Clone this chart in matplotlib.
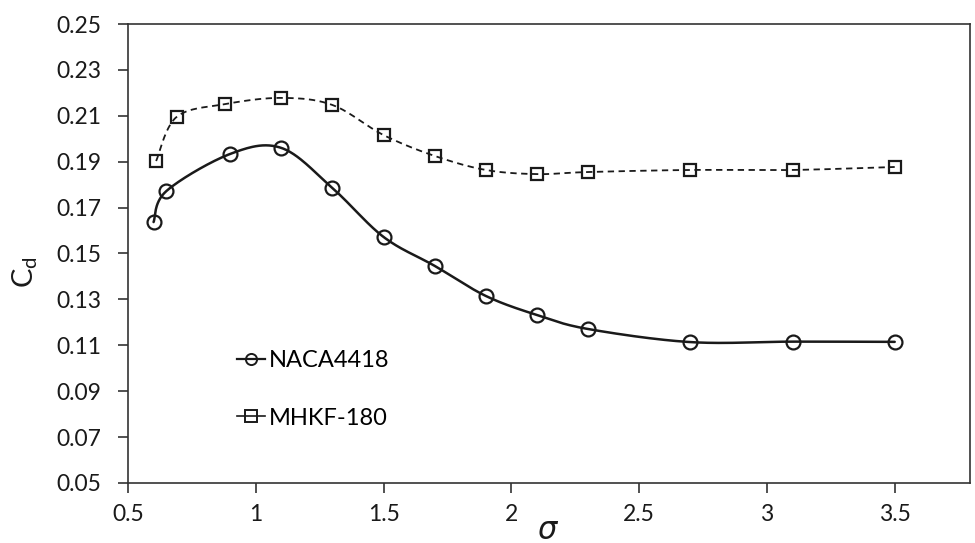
import numpy as np
import matplotlib
matplotlib.use("Agg")
import matplotlib.pyplot as plt
from matplotlib.lines import Line2D

plt.rcParams['font.family'] = ['Lato', 'DejaVu Sans']

naca_x = [0.6, 0.65, 0.9, 1.1, 1.3, 1.5, 1.7, 1.9, 2.1, 2.3, 2.7, 3.1, 3.5]
naca_y = [0.1637, 0.1772, 0.1934, 0.1960, 0.1785, 0.1572, 0.1446, 0.1315,
          0.1232, 0.1171, 0.1114, 0.1116, 0.1115]
mhkf_x = [0.61, 0.69, 0.88, 1.1, 1.3, 1.5, 1.7, 1.9, 2.1, 2.3, 2.7, 3.1, 3.5]
mhkf_y = [0.1903, 0.2095, 0.2151, 0.2178, 0.2147, 0.2016, 0.1925, 0.1864,
          0.1846, 0.1855, 0.1864, 0.1864, 0.1877]
series_names = ['NACA4418', 'MHKF-180']
y_ticks = [0.05, 0.07, 0.09, 0.11, 0.13, 0.15, 0.17, 0.19, 0.21, 0.23, 0.25]
x_ticks = [0.5, 1, 1.5, 2, 2.5, 3, 3.5]


def smooth(xs, ys, n=30):
    """Excel-like smoothed line (Catmull-Rom Bezier) through the data points."""
    p = np.column_stack([xs, ys]).astype(float)
    out = []
    for i in range(len(p) - 1):
        p0 = p[i - 1] if i > 0 else p[i]
        p1 = p[i]
        p2 = p[i + 1]
        p3 = p[i + 2] if i + 2 < len(p) else p[i + 1]
        c1 = p1 + (p2 - p0) / 6.0
        c2 = p2 - (p3 - p1) / 6.0
        t = np.linspace(0, 1, n)[:, None]
        seg = ((1 - t) ** 3) * p1 + 3 * ((1 - t) ** 2) * t * c1 + 3 * (1 - t) * t ** 2 * c2 + t ** 3 * p2
        out.append(seg if i == 0 else seg[1:])
    s = np.vstack(out)
    return s[:, 0], s[:, 1]


fig = plt.figure(figsize=(9.75, 5.43), dpi=100)
ax = fig.add_axes([0.1313, 0.1105, 0.8637, 0.8453])

sx, sy = smooth(naca_x, naca_y)
ax.plot(sx, sy, color='#1a1a1a', lw=1.8, solid_capstyle='round')
ax.plot(naca_x, naca_y, ls='none', marker='o', ms=10, mfc='none', mec='#1a1a1a', mew=1.6)

sx2, sy2 = smooth(mhkf_x, mhkf_y)
ax.plot(sx2, sy2, color='#1a1a1a', lw=1.3, ls=(0, (3.5, 2.5)))
ax.plot(mhkf_x, mhkf_y, ls='none', marker='s', ms=9, mfc='none', mec='#1a1a1a', mew=1.6)

ax.set_xlim(0.5, 3.795)
ax.set_ylim(0.05, 0.25)
ax.set_xticks(x_ticks)
ax.set_xticklabels([f'{v:g}' for v in x_ticks])
ax.set_yticks(y_ticks)
ax.set_yticklabels([f'{v:.2f}' for v in y_ticks])
ax.tick_params(axis='both', direction='out', length=7, width=1.2, color='#333333',
               labelsize=16.5, labelcolor='#1a1a1a')
ax.tick_params(axis='y', pad=12)
ax.tick_params(axis='x', pad=8)
for sp in ax.spines.values():
    sp.set_color('#333333')
    sp.set_linewidth(1.2)

ax.set_ylabel(r'C$_\mathregular{d}$', fontsize=21, color='#1a1a1a')
ax.yaxis.set_label_coords(-0.105, 0.46)
ax.set_xlabel(r'$\sigma$', fontsize=22, color='#1a1a1a')
ax.xaxis.set_label_coords((548 - 128) / 842, -0.072)

handles = [
    Line2D([], [], color='#1a1a1a', lw=1.6, marker='o', ms=8, mfc='none', mew=1.4),
    Line2D([], [], color='#1a1a1a', lw=1.2, ls='-', marker='s', ms=8, mfc='none', mew=1.4),
]
ax.legend(handles, series_names, loc='upper left', bbox_to_anchor=(0.118, 0.31),
          frameon=False, fontsize=17, handlelength=1.2, handletextpad=0.15,
          labelspacing=1.55, borderaxespad=0)

fig.savefig('out.png', dpi=100)
